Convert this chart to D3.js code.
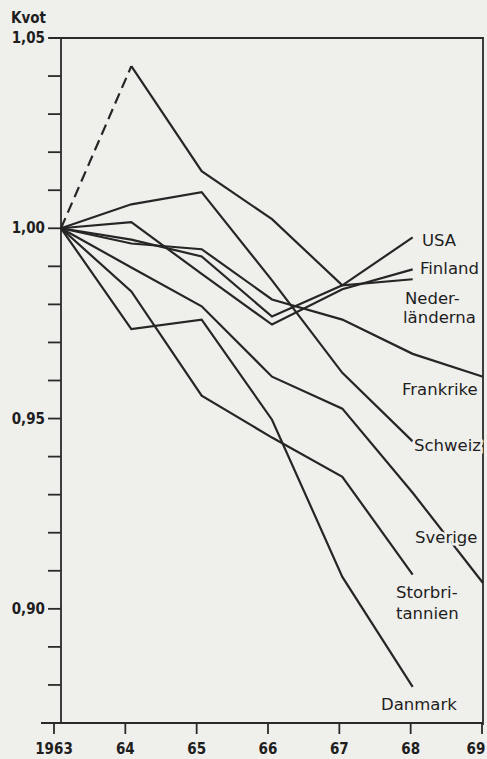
<!DOCTYPE html>
<html>
<head>
<meta charset="utf-8">
<script src="https://cdn.jsdelivr.net/npm/d3@7"></script>
<style>
  body { margin: 0; background: #efefec; }
  .line { fill: none; stroke: #262626; stroke-width: 2.2; stroke-linejoin: miter; }
  .axis-line { stroke: #2a2a2a; stroke-width: 1.8; fill: none; }
  .tick-text { font-family: "DejaVu Sans Condensed", "DejaVu Sans"; font-weight: bold; font-size: 15px; fill: #1e1e1e; }
  .label { font-family: "DejaVu Sans", sans-serif; font-size: 16.5px; fill: #1e1e1e; }
</style>
</head>
<body>
<svg id="chart"></svg>
<script>
const years = [1963, 1964, 1965, 1966, 1967, 1968, 1969];
const yearLabels = ["1963", "64", "65", "66", "67", "68", "69"];
const yTicks = [1.05, 1.00, 0.95, 0.90];
const yTickLabels = ["1,05", "1,00", "0,95", "0,90"];
const yMinor = [1.04, 1.03, 1.02, 1.01, 0.99, 0.98, 0.97, 0.96, 0.94, 0.93, 0.92, 0.91, 0.89, 0.88];

// kvot per land, 1963 = 1
const usa = [1.000, 0.997, 0.9926, 0.9768, 0.985, 0.9976];
const finland = [1.000, 1.0016, 0.988, 0.9747, 0.984, 0.9892];
const nederlanderna = [1.000, 1.0426, 1.015, 1.0024, 0.985, 0.9866];
const frankrike = [1.000, 0.996, 0.9945, 0.9813, 0.976, 0.967, 0.961];
const schweiz = [1.000, 1.0063, 1.0095, 0.9863, 0.962, 0.944];
const sverige = [1.000, 0.9897, 0.9795, 0.961, 0.9526, 0.9305, 0.9068];
const storbritannien = [1.000, 0.9834, 0.956, 0.945, 0.9347, 0.909];
const danmark = [1.000, 0.9735, 0.976, 0.9497, 0.9084, 0.8795];

const series = [usa, finland, nederlanderna, frankrike, schweiz, sverige, storbritannien, danmark];

const width = 487, height = 759;
const svg = d3.select("#chart").attr("width", width).attr("height", height);

const x = d3.scaleLinear().domain([1963, 1969]).range([61, 483]);
// the printed year ticks sit a little left of the plotted points
const xTick = d3.scaleLinear().domain([1963, 1969]).range([54, 482]);
const y = d3.scaleLinear().domain([0.87, 1.05]).range([723, 38]);

// frame: left axis, top and right border, bottom axis
svg.append("path").attr("class", "axis-line")
    .attr("d", `M${x(1963)},${y(1.05)} V${y(0.87)} M${x(1963) - 12},${y(1.05)} H${x(1969)} V${y(0.87) + 2} M${x(1963) - 20},${y(0.87)} H${x(1969)}`);

// y ticks
const tickLen = 13;
svg.selectAll(".ytick").data(yTicks.concat(yMinor)).enter().append("line")
    .attr("class", "axis-line")
    .attr("x1", x(1963) - tickLen).attr("x2", x(1963))
    .attr("y1", d => y(d)).attr("y2", d => y(d));

svg.selectAll(".ylab").data(yTicks).enter().append("text")
    .attr("class", "tick-text")
    .attr("x", x(1963) - 16).attr("y", d => y(d) + 5)
    .attr("text-anchor", "end")
    .text((d, i) => yTickLabels[i]);

svg.append("text").attr("class", "tick-text")
    .attr("x", 11).attr("y", 23).text("Kvot");

// x ticks
svg.selectAll(".xtick").data(years).enter().append("line")
    .attr("class", "axis-line")
    .attr("x1", d => xTick(d)).attr("x2", d => xTick(d))
    .attr("y1", y(0.87)).attr("y2", y(0.87) + 11);

svg.selectAll(".xlab").data(years).enter().append("text")
    .attr("class", "tick-text")
    .attr("x", d => d === 1969 ? 476 : xTick(d)).attr("y", 754)
    .attr("text-anchor", "middle")
    .text((d, i) => yearLabels[i]);

// lines
const line = d3.line().x((d, i) => x(years[i])).y(d => y(d));

series.forEach(s => {
    if (s === nederlanderna) {
        svg.append("path").attr("class", "line").attr("d", line(s.slice(0, 2)))
            .attr("stroke-dasharray", "11,6");
        svg.append("path").attr("class", "line")
            .attr("d", d3.line().x((d, i) => x(years[i + 1])).y(d => y(d))(s.slice(1)));
    } else {
        svg.append("path").attr("class", "line").attr("d", line(s));
    }
});

// labels
const labels = [
    ["USA", 422, 246],
    ["Finland", 420, 274],
    ["Neder-", 405, 304],
    ["länderna", 403, 323],
    ["Frankrike", 402, 395],
    ["Schweiz", 414, 451],
    ["Sverige", 415, 543],
    ["Storbri-", 396, 598],
    ["tannien", 396, 619],
    ["Danmark", 381, 710]
];
svg.selectAll(".label").data(labels).enter().append("text")
    .attr("class", "label")
    .attr("x", d => d[1])
    .attr("y", d => d[2])
    .attr("stroke", "#efefec").attr("stroke-width", 5).attr("paint-order", "stroke")
    .text(d => d[0]);
</script>
</body>
</html>
